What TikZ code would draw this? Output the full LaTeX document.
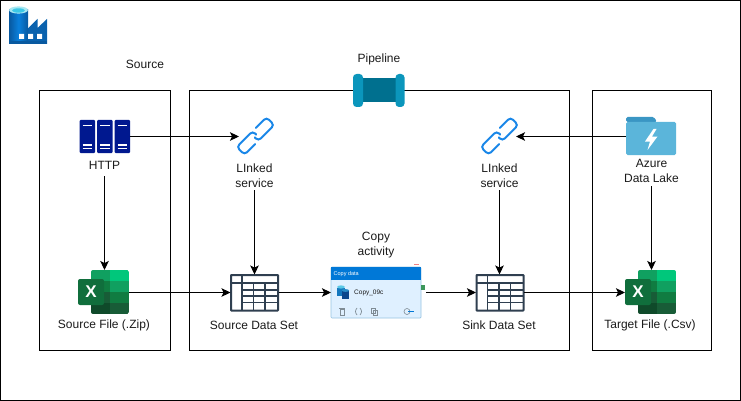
\documentclass[tikz,border=0pt]{standalone}
\usepackage{fontspec}
\setmainfont{Liberation Sans}
\usetikzlibrary{arrows.meta}
\definecolor{txt}{HTML}{1A1A1A}
\definecolor{navy}{HTML}{00188F}
\definecolor{tablec}{HTML}{2F3F50}
\definecolor{linkc}{HTML}{1A87E8}
\definecolor{capc}{HTML}{0B96BC}
\definecolor{midc}{HTML}{00708F}
\definecolor{lakebody}{HTML}{5BB5DA}
\definecolor{laketab}{HTML}{3A96C4}
\definecolor{hdrblue}{HTML}{0078D7}
\definecolor{copybody}{HTML}{DFF0FF}
\definecolor{copyedge}{HTML}{96C3E1}
\definecolor{greybar}{HTML}{7F8C95}
\definecolor{xa}{HTML}{10A060}
\definecolor{xb}{HTML}{00C77B}
\definecolor{xc}{HTML}{107C41}
\definecolor{xd}{HTML}{185C37}
\definecolor{xe}{HTML}{0F4A2A}
\definecolor{xf}{HTML}{106E3C}
\definecolor{facbase}{HTML}{0A62AE}
\definecolor{facdark}{HTML}{0859A0}
\definecolor{cylmid}{HTML}{0A80DC}
\definecolor{cylrim}{HTML}{A8E8F2}
\definecolor{cylin}{HTML}{3CC8E6}
\definecolor{dba}{HTML}{1478BE}
\definecolor{dbb}{HTML}{0A468C}
\definecolor{dbc}{HTML}{5AC8E6}
\definecolor{dbd}{HTML}{288CC8}
\definecolor{portg}{HTML}{3C965A}
\definecolor{pinkm}{HTML}{F08282}
\tikzset{
  x=1pt,y=-1pt,
  frame/.style={draw=black,line width=1pt,fill=none},
  lbl/.style={font=\fontsize{12}{15}\selectfont,text=txt,align=center,inner sep=0pt},
  icon/.style={inner sep=0pt,outer sep=0pt,draw=none,fill=none},
  conn/.style={draw=black,line width=1pt,-{Stealth[length=9pt,width=8.5pt,inset=2pt]}},
  linkline/.style={draw=linkc,line width=2pt,line cap=round,rounded corners=3.5pt},
  pics/excel/.style={code={
    \begin{scope}
      \clip[rounded corners=2pt] (13,0) rectangle (51,44);
      \fill[xa] (13,0) rectangle (32,11);
      \fill[xb] (32,0) rectangle (51,11);
      \fill[xc] (13,11) rectangle (32,22);
      \fill[xa] (32,11) rectangle (51,22);
      \fill[xd] (13,22) rectangle (32,33);
      \fill[xc] (32,22) rectangle (51,33);
      \fill[xe] (13,33) rectangle (32,44);
      \fill[xd] (32,33) rectangle (51,44);
    \end{scope}
    \fill[rounded corners=2pt,xf] (0,9) rectangle (26,35);
    \node[text=white,font=\bfseries\fontsize{17}{17}\selectfont,inner sep=0pt] at (13,22) {X};
  }},
  pics/grid/.style={code={
    \draw[tablec,line width=2pt,rounded corners=0.5pt] (0,0) rectangle (47,35.5);
    \draw[tablec,line width=2pt] (0,8) -- (47,8);
    \draw[tablec,line width=1.8pt] (11,0) -- (11,35.5);
    \foreach \yy in {15,21,27.5} {\draw[tablec,line width=1.8pt] (11,\yy) -- (47,\yy);}
    \foreach \xx in {22.5,34} {\draw[tablec,line width=1.8pt] (\xx,8) -- (\xx,35.5);}
  }},
  pics/chain/.style={code={
    \begin{scope}[rotate=45]
      \draw[linkline] (-6,5.5) -- (-21,5.5) -- (-21,-5.5) -- (1.5,-5.5) -- (1.5,-0.5);
      \draw[linkline] (6,-5.5) -- (21,-5.5) -- (21,5.5) -- (-1.5,5.5) -- (-1.5,0.5);
    \end{scope}
  }},
  pics/rack/.style={code={
    \fill[navy,rounded corners=1pt] (0,0) rectangle (15.5,33);
    \draw[white,line width=1.1pt] (3,5.5) -- (12.5,5.5) (3,25) -- (12.5,25) (3,28.5) -- (12.5,28.5);
  }}
}
\begin{document}
\begin{tikzpicture}
\useasboundingbox (0,0) rectangle (741,401);
% outer frame
\draw[black,line width=1.2pt] (0.5,0.5) rectangle (740.5,400.5);

% containers
\node[frame,minimum width=131pt,minimum height=259pt,inner sep=0pt] (srcbox) at (104.5,220.5) {};
\node[frame,minimum width=380pt,minimum height=259pt,inner sep=0pt] (pipebox) at (379.5,220.5) {};
\node[frame,minimum width=119pt,minimum height=259pt,inner sep=0pt] (tgtbox) at (651.5,220.5) {};

% factory icon
\fill[facbase]
    (20,28.5) -- (28,28.5) -- (37.5,19) -- (37.5,28) -- (47,19) -- (47,44) -- (20,44) -- cycle;
\shade[left color=facdark,right color=facdark,middle color=cylmid] (9,10) rectangle (28,44);
\fill[facdark] (9,41) rectangle (47,44);
\fill[cylrim] (18.5,10) ellipse [x radius=9.5pt,y radius=3.6pt];
\fill[cylin] (18.5,10.5) ellipse [x radius=6.5pt,y radius=2.2pt];
\fill[white] (19,34) rectangle (24,39) (28,34) rectangle (33,39) (37,34) rectangle (42,39);

% texts
\node[lbl] (srcttl) at (145,64) {Source};
\node[lbl] (pipettl) at (379,59) {Pipeline};

% pipeline icon
\node[icon,minimum width=51pt,minimum height=33pt] (pipeicon) at (378.5,90.5) {};
\fill[midc] (363,78) rectangle (396,102);
\fill[capc,rounded corners=3.5pt] (353,74) rectangle (363,107);
\fill[capc,rounded corners=3.5pt] (395.5,74) rectangle (404.5,107);

% HTTP
\node[icon,minimum width=50pt,minimum height=33pt] (http) at (104.5,136.5) {};
\foreach \xo in {79.5,97,114.5} {\pic at (\xo,120) {rack};}
\node[lbl,minimum height=22pt] (httpl) at (104.5,165) {HTTP};

% links
\node[icon,minimum width=32pt,minimum height=32pt] (linka) at (255,136.5) {};
\pic at (255.5,136) {chain};
\node[lbl,minimum height=29pt] (linkal) at (254.5,175.5) {LInked\\service};
\node[icon,minimum width=32pt,minimum height=32pt] (linkb) at (500,136.5) {};
\pic at (499.5,136) {chain};
\node[lbl,minimum height=29pt] (linkbl) at (499.5,175.5) {LInked\\service};

% lake
\node[icon,minimum width=50pt,minimum height=39pt] (lake) at (651,136.5) {};
\fill[laketab,rounded corners=1.5pt] (626,117) -- (654,117) -- (657,122) -- (626,122) -- cycle;
\fill[lakebody,rounded corners=1.5pt] (626,122) rectangle (676,155);
\fill[white] (653.5,129) -- (645,141.5) -- (650,141.5) -- (647.5,150) -- (657.5,136.5) -- (652,136.5) -- (656.5,129) -- cycle;
\node[lbl,minimum height=31pt] (lakel) at (651.5,170.5) {Azure\\Data Lake};

% excel
\node[icon,minimum width=51pt,minimum height=45pt] (srcx) at (103.5,292.5) {};
\pic at (78,270) {excel};
\node[lbl] (srcxl) at (104,325) {Source File (.Zip)};
\node[icon,minimum width=51pt,minimum height=45pt] (tgtx) at (650.5,292.5) {};
\pic at (625,270) {excel};
\node[lbl] (tgtxl) at (650,325) {Target File (.Csv)};

% tables
\node[icon,minimum width=48pt,minimum height=36pt] (srcds) at (254.5,292.5) {};
\pic at (231,275) {grid};
\node[lbl] (srcdsl) at (254,325) {Source Data Set};
\node[icon,minimum width=48pt,minimum height=36pt] (snkds) at (500,292.5) {};
\pic at (476.5,275) {grid};
\node[lbl] (snkdsl) at (499,325) {Sink Data Set};

% copy activity
\node[lbl] (copyl) at (376,245.5) {Copy\\activity};
\node[icon,minimum width=90pt,minimum height=51pt] (copy) at (376,292.5) {};
\fill[copybody,rounded corners=1pt] (331,267) rectangle (421,318);
\draw[copyedge,line width=0.7pt,rounded corners=1pt] (331,267) rectangle (421,318);
\fill[hdrblue] (331,267) rectangle (421,280);
\node[text=white,font=\fontsize{5.5}{6}\selectfont,inner sep=0pt,anchor=west] (copyh) at (333.5,274) {Copy data};
\fill[dba] (337,288) rectangle (345,296);
\fill[dbb] (342,291) rectangle (349,299);
\fill[dbc] (341,287) ellipse [x radius=4pt,y radius=1.6pt];
\fill[dbd] (345.5,290.5) ellipse [x radius=3.6pt,y radius=1.4pt];
\node[text=txt,font=\fontsize{6.5}{7}\selectfont,inner sep=0pt,anchor=west] (copyn) at (354,293) {Copy\_09c};
\draw[greybar,line width=0.7pt] (340,309) rectangle (344,315) (339,308.5) -- (345,308.5);
\draw[greybar,line width=0.7pt] (357,308) .. controls (355,308) and (356.5,311.5) .. (355.5,311.5) .. controls (356.5,311.5) and (355,315) .. (357,315);
\draw[greybar,line width=0.7pt] (360,308) .. controls (362,308) and (360.5,311.5) .. (361.5,311.5) .. controls (360.5,311.5) and (362,315) .. (360,315);
\draw[greybar,line width=0.7pt] (371,308) rectangle (375,313) (373,310) rectangle (377,315);
\draw[greybar,line width=0.6pt] (407,311.5) circle (3pt);
\draw[hdrblue,line width=0.8pt] (408,311.5) -- (414,311.5);
\fill[portg] (421,284.5) rectangle (425,290);
\draw[pinkm,line width=0.6pt] (414,264.5) -- (419,264.5);

% connectors
\draw[conn] (http.east) -- (linka.west);
\draw[conn] (lake.west) -- (linkb.east);
\draw[conn] (httpl.south) -- (srcx.north -| httpl.south);
\draw[conn] (linkal.south) -- (srcds.north -| linkal.south);
\draw[conn] (linkbl.south) -- (snkds.north -| linkbl.south);
\draw[conn] (lakel.south) -- (tgtx.north -| lakel.south);
\draw[conn] (srcx.east) -- (srcds.west);
\draw[conn] (srcds.east) -- (copy.west);
\draw[conn] ([xshift=5pt]copy.east) -- (snkds.west);
\draw[conn] (snkds.east) -- (tgtx.west);
\end{tikzpicture}
\end{document}
